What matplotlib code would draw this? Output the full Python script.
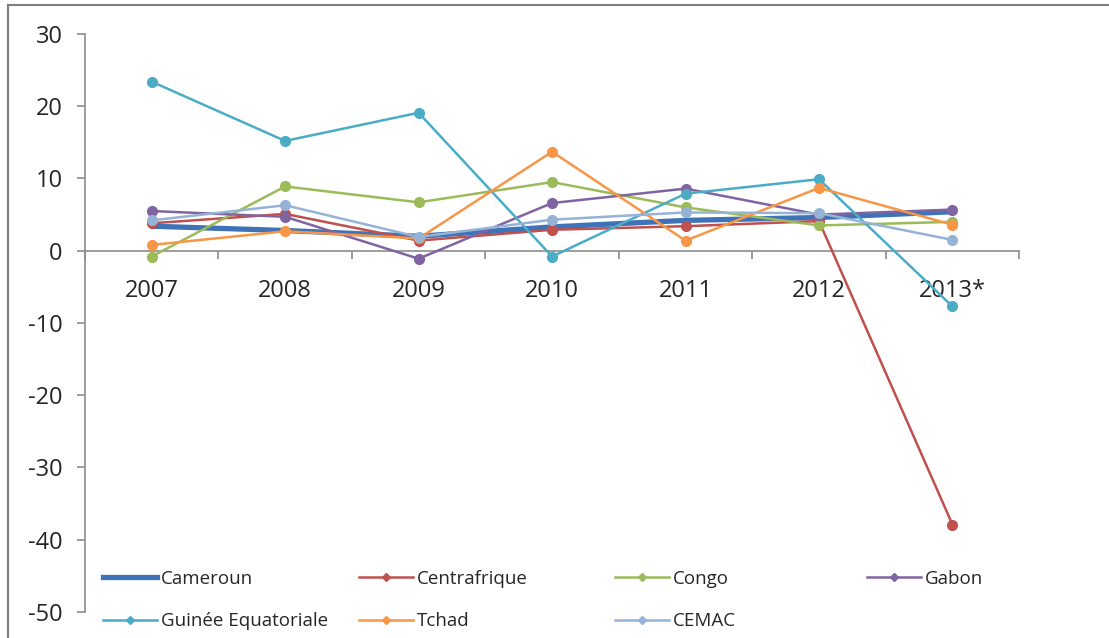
import matplotlib.pyplot as plt
from matplotlib.lines import Line2D
import numpy as np

# Données
annees = ['2007', '2008', '2009', '2010', '2011', '2012', '2013*']
cameroun = [3.4, 2.8, 2.0, 3.3, 4.2, 4.6, 5.4]
centrafrique = [3.8, 5.1, 1.4, 2.9, 3.4, 4.1, -37.9]
congo = [-0.8, 8.9, 6.7, 9.5, 6.0, 3.5, 4.0]
gabon = [5.5, 4.7, -1.1, 6.6, 8.6, 5.0, 5.7]
guinee = [23.4, 15.2, 19.1, -0.8, 7.9, 9.9, -7.7]
tchad = [0.8, 2.7, 1.7, 13.7, 1.4, 8.7, 3.6]
cemac = [4.2, 6.3, 1.9, 4.3, 5.3, 5.2, 1.5]

series = [
    ('Cameroun', cameroun, '#3F73B8'),
    ('Centrafrique', centrafrique, '#C0504D'),
    ('Congo', congo, '#9BBB59'),
    ('Gabon', gabon, '#8064A2'),
    ('Guinée Equatoriale', guinee, '#4BACC6'),
    ('Tchad', tchad, '#F79646'),
    ('CEMAC', cemac, '#95B3D7'),
]

plt.rcParams['font.family'] = ['Open Sans', 'DejaVu Sans']
plt.rcParams['axes.unicode_minus'] = False

fig = plt.figure(figsize=(11.09, 6.38), dpi=100)
ax = fig.add_axes([0.0766, 0.0408, 0.8424, 0.9059])

x = np.arange(len(annees))
handles = []
for nom, valeurs, couleur in series:
    if nom == 'Cameroun':
        ax.plot(x, valeurs, color=couleur, linewidth=3.8, zorder=2, solid_capstyle='round')
        handles.append(Line2D([], [], color=couleur, linewidth=3.8))
    else:
        ax.plot(x, valeurs, color=couleur, linewidth=1.8, marker='o', markersize=7, zorder=3)
        handles.append(Line2D([], [], color=couleur, linewidth=1.8, marker='D', markersize=4))

ax.set_xlim(-0.5, len(annees) - 0.5)
ax.set_ylim(-50, 30)
ax.set_yticks(range(-50, 31, 10))

gris = '#8C8C8C'
for cote in ['top', 'right']:
    ax.spines[cote].set_visible(False)
ax.spines['left'].set_color(gris)
ax.spines['bottom'].set_color(gris)
ax.spines['left'].set_linewidth(1.2)
ax.spines['bottom'].set_linewidth(1.2)
ax.spines['bottom'].set_position(('data', 0))

ax.set_xticks(x)
ax.set_xticklabels(annees)
ax.set_xticks(np.arange(-0.5, len(annees), 1), minor=True)
ax.tick_params(axis='x', which='major', length=0, pad=20, labelsize=17, labelcolor='#262626')
ax.tick_params(axis='x', which='minor', length=6, color=gris, width=1.2, direction='out')
ax.tick_params(axis='y', length=6, color=gris, width=1.2, pad=10, labelsize=17, labelcolor='#262626')

# Légende en 4 colonnes espacées régulièrement
colonnes_x = [0.0929, 0.3237, 0.5545, 0.7817]
for i, cx in enumerate(colonnes_x):
    idx = [j for j in (i, i + 4) if j < len(series)]
    leg = fig.legend([handles[j] for j in idx], [series[j][0] for j in idx],
                     loc='upper left', bbox_to_anchor=(cx, 0.107), frameon=False,
                     fontsize=13.5, handlelength=2.9, handletextpad=0.2,
                     labelspacing=1.32, borderpad=0, borderaxespad=0)
    for t in leg.get_texts():
        t.set_color('#262626')

# Cadre du graphique
fig.add_artist(Line2D([8 / 1109, 8 / 1109], [0, 1 - 5 / 638], transform=fig.transFigure,
                      color='#7F7F7F', linewidth=1.5))
fig.add_artist(Line2D([8 / 1109, 1], [1 - 5 / 638, 1 - 5 / 638], transform=fig.transFigure,
                      color='#7F7F7F', linewidth=1.5))

fig.savefig('out.png', dpi=100)
